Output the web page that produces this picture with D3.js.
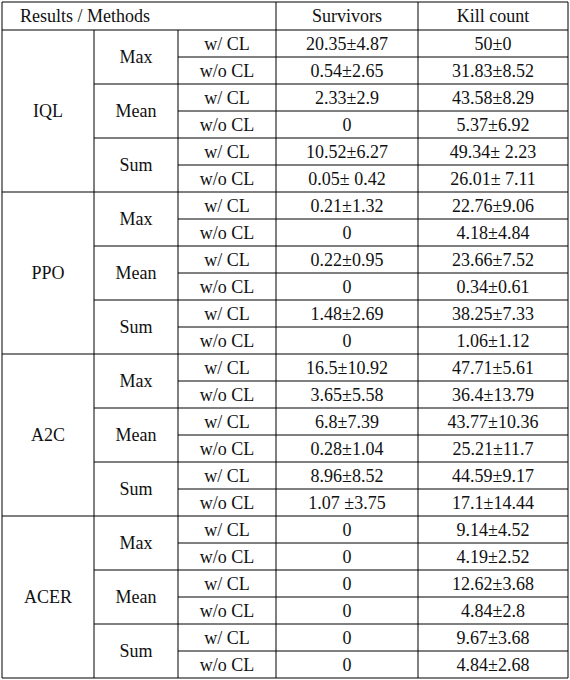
<!DOCTYPE html>
<html>
<head>
<meta charset="utf-8">
<style>
    body { margin: 0; background: #fff; }
    svg { font-family: "Liberation Serif", "Times New Roman", serif; }
    .cell { font-size: 18px; fill: #111; }
    .rule { stroke: #000; stroke-width: 1; }
</style>
</head>
<body>
<svg width="570" height="680"></svg>
<script src="https://d3js.org/d3.v7.min.js"></script>
<script>

    let algorithms = ["IQL", "PPO", "A2C", "ACER"]
    let aggregations = ["Max", "Mean", "Sum"]
    let settings = ["w/ CL", "w/o CL"]
    let headers = ["Survivors", "Kill count"]

    let survivors = [
        "20.35±4.87", "0.54±2.65", "2.33±2.9", "0", "10.52±6.27", "0.05± 0.42",
        "0.21±1.32", "0", "0.22±0.95", "0", "1.48±2.69", "0",
        "16.5±10.92", "3.65±5.58", "6.8±7.39", "0.28±1.04", "8.96±8.52", "1.07 ±3.75",
        "0", "0", "0", "0", "0", "0"
    ]
    let killCount = [
        "50±0", "31.83±8.52", "43.58±8.29", "5.37±6.92", "49.34± 2.23", "26.01± 7.11",
        "22.76±9.06", "4.18±4.84", "23.66±7.52", "0.34±0.61", "38.25±7.33", "1.06±1.12",
        "47.71±5.61", "36.4±13.79", "43.77±10.36", "25.21±11.7", "44.59±9.17", "17.1±14.44",
        "9.14±4.52", "4.19±2.52", "12.62±3.68", "4.84±2.8", "9.67±3.68", "4.84±2.68"
    ]

    let svg = d3.select("svg")

    let left = 2, right = 568, tableTop = 2, headBottom = 30
    let nRows = algorithms.length * aggregations.length * settings.length
    let colEdges = [left, 94, 178, 276, 418, right]
    let y = d3.scaleLinear().domain([0, nRows]).range([headBottom, 678])
    let rowH = y(1) - y(0)

    function hline(x1, yy) {
        svg.append("line").attr("class", "rule")
            .attr("x1", x1).attr("x2", right).attr("y1", yy).attr("y2", yy)
    }
    function text(x, yy, s, anchor) {
        svg.append("text").attr("class", "cell")
            .attr("x", x).attr("y", yy + 6)
            .attr("text-anchor", anchor || "middle")
            .text(s)
    }

    // outer frame and vertical rules
    hline(left, tableTop)
    hline(left, headBottom)
    colEdges.forEach((cx, i) => {
        svg.append("line").attr("class", "rule")
            .attr("x1", cx).attr("x2", cx)
            .attr("y1", (i == 1 || i == 2) ? headBottom : tableTop).attr("y2", y(nRows))
    })

    // header
    text(20, (tableTop + headBottom) / 2, "Results / Methods", "start")
    text((colEdges[3] + colEdges[4]) / 2, (tableTop + headBottom) / 2, headers[0])
    text((colEdges[4] + colEdges[5]) / 2, (tableTop + headBottom) / 2, headers[1])

    let perAlgo = aggregations.length * settings.length
    algorithms.forEach((alg, a) => {
        let r0 = a * perAlgo
        text((colEdges[0] + colEdges[1]) / 2, (y(r0) + y(r0 + perAlgo)) / 2, alg)
        hline(left, y(r0 + perAlgo))
        aggregations.forEach((agg, g) => {
            let g0 = r0 + g * settings.length
            text((colEdges[1] + colEdges[2]) / 2, (y(g0) + y(g0 + settings.length)) / 2, agg)
            if (g > 0) hline(colEdges[1], y(g0))
            settings.forEach((s, k) => {
                let r = g0 + k
                let cy = y(r) + rowH / 2
                if (k > 0) hline(colEdges[2], y(r))
                text((colEdges[2] + colEdges[3]) / 2, cy, s)
                text((colEdges[3] + colEdges[4]) / 2, cy, survivors[r])
                text((colEdges[4] + colEdges[5]) / 2, cy, killCount[r])
            })
        })
    })

</script>
</body>
</html>
